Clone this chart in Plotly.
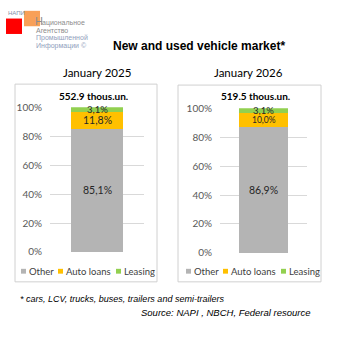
import plotly.graph_objects as go

# ---- data ----
periods = ["January 2025", "January 2026"]
totals = ["552.9 thous.un.", "519.5 thous.un."]
segments = ["Other", "Auto loans", "Leasing"]
share_other = [85.1, 86.9]
share_auto_loans = [11.8, 10.0]
share_leasing = [3.1, 3.1]
y_ticks = [0, 20, 40, 60, 80, 100]

colors = {"Other": "#B4B4B4", "Auto loans": "#FFC000", "Leasing": "#92D050"}
label_sizes = {"Other": [10.5, 10.5], "Auto loans": [10.5, 8.5], "Leasing": [9.5, 9.5]}

W = H = 338
BODY_FONT = "Lato, Calibri, Carlito, sans-serif"
ARIAL = "Liberation Sans, Arial, sans-serif"


def px(x):
    return x / W


def py(y):
    return 1 - y / H


# panel geometry (pixels from top-left)
panels = [
    dict(plot_x=(50, 144), plot_y=(105, 255), box=(15, 81, 157, 286), title_x=97, total_x=94, leg_x=21),
    dict(plot_x=(220, 307), plot_y=(106, 256), box=(178, 82, 321, 286), title_x=248, total_x=255, leg_x=186),
]

fig = go.Figure()
series = {"Other": share_other, "Auto loans": share_auto_loans, "Leasing": share_leasing}

annotations = []
shapes = []

for i, period in enumerate(periods):
    sfx = "" if i == 0 else str(i + 1)
    xa, ya = "x" + sfx, "y" + sfx
    base = 0.0
    for seg in segments:
        v = series[seg][i]
        fig.add_trace(go.Bar(
            x=[period], y=[v], name=seg, xaxis=xa, yaxis=ya,
            marker=dict(color=colors[seg], line=dict(width=0)),
            width=0.56, showlegend=False, hoverinfo="skip",
        ))
        annotations.append(dict(
            x=period, y=base + v / 2, xref=xa, yref=ya,
            text=f"{v:.1f}%".replace(".", ","), showarrow=False,
            font=dict(family=BODY_FONT, size=label_sizes[seg][i], color="#262626"),
            xanchor="center", yanchor="middle",
        ))
        base += v

    p = panels[i]
    layout_x = dict(domain=[px(p["plot_x"][0]), px(p["plot_x"][1])], showticklabels=False,
                    showgrid=False, zeroline=False, showline=False, range=[-0.5, 0.5],
                    anchor=ya, fixedrange=True)
    layout_y = dict(domain=[py(p["plot_y"][1]), py(p["plot_y"][0])], range=[0, 100.05],
                    tickvals=y_ticks, ticktext=[f"{t}%" for t in y_ticks],
                    showgrid=True, gridcolor="#D9D9D9", gridwidth=1, zeroline=False,
                    showline=False, ticks="", ticklabelstandoff=7,
                    tickfont=dict(family=BODY_FONT, size=10, color="#595959"),
                    anchor=xa, fixedrange=True)
    fig.update_layout(**{"xaxis" + sfx: layout_x, "yaxis" + sfx: layout_y})

    # panel frame
    bx0, by0, bx1, by1 = p["box"]
    shapes.append(dict(type="rect", xref="paper", yref="paper",
                       x0=px(bx0), x1=px(bx1), y0=py(by1), y1=py(by0),
                       line=dict(color="#D0D0D0", width=1), fillcolor="rgba(0,0,0,0)"))
    # panel heading and total
    annotations.append(dict(x=px(p["title_x"]), y=py(69), xref="paper", yref="paper",
                            text=period, showarrow=False, xanchor="center", yanchor="middle",
                            font=dict(family=BODY_FONT, size=11.5, color="#000000")))
    annotations.append(dict(x=px(p["total_x"]), y=py(93), xref="paper", yref="paper",
                            text=f"<b>{totals[i]}</b>", showarrow=False, xanchor="center",
                            yanchor="middle",
                            font=dict(family=BODY_FONT, size=10, color="#000000")))
    # legend row
    lx = p["leg_x"]
    offsets = [0, 37, 95]
    for seg, off in zip(segments, offsets):
        sx = lx + off
        shapes.append(dict(type="rect", xref="paper", yref="paper",
                           x0=px(sx), x1=px(sx + 5), y0=py(277.5), y1=py(272.5),
                           fillcolor=colors[seg], line=dict(width=0)))
        annotations.append(dict(x=px(sx + 6), y=py(275), xref="paper", yref="paper",
                                text=seg, showarrow=False, xanchor="left", yanchor="middle",
                                font=dict(family=BODY_FONT, size=9.5, color="#404040")))

# main heading
annotations.append(dict(x=px(199), y=py(41), xref="paper", yref="paper",
                        text="<b>New and used vehicle market*</b>", showarrow=False,
                        xanchor="center", yanchor="middle",
                        font=dict(family=ARIAL, size=12, color="#000000")))

# footnotes
annotations.append(dict(x=px(18), y=py(304), xref="paper", yref="paper",
                        text="<i>* cars, LCV, trucks, buses, trailers and semi-trailers</i>",
                        showarrow=False, xanchor="left", yanchor="middle",
                        font=dict(family=ARIAL, size=9, color="#000000")))
annotations.append(dict(x=px(312), y=py(318), xref="paper", yref="paper",
                        text="<i>Source: NAPI , NBCH, Federal resource</i>",
                        showarrow=False, xanchor="right", yanchor="middle",
                        font=dict(family=ARIAL, size=9.5, color="#000000")))

# logo
shapes.append(dict(type="rect", xref="paper", yref="paper", x0=px(6), x1=px(22),
                   y0=py(29), y1=py(13), fillcolor="#FF0000", line=dict(width=0)))
shapes.append(dict(type="rect", xref="paper", yref="paper", x0=px(24), x1=px(40),
                   y0=py(21), y1=py(5), fillcolor="rgba(247,150,70,0.9)", line=dict(width=0)))
annotations.append(dict(x=px(6), y=py(7.5), xref="paper", yref="paper", text="НАПИ",
                        showarrow=False, xanchor="left", yanchor="middle",
                        font=dict(family=ARIAL, size=6, color="#7F8FA9")))
annotations.append(dict(x=px(33), y=py(16), xref="paper", yref="paper", text="Н",
                        showarrow=False, xanchor="left", yanchor="middle",
                        font=dict(family=ARIAL, size=11, color="#8C8C8C")))
logo_lines = [("ациональное", 40, 17.5, "#8C8C8C"), ("Агентство", 34, 25.5, "#8C8C8C"),
              ("Промышленной", 34, 33.5, "#8FA0BC"), ("Информации ©", 34, 41.5, "#8FA0BC")]
for txt, x, y, c in logo_lines:
    annotations.append(dict(x=px(x), y=py(y), xref="paper", yref="paper", text=txt,
                            showarrow=False, xanchor="left", yanchor="middle",
                            font=dict(family=ARIAL, size=7, color=c)))

fig.update_layout(
    width=W, height=H, margin=dict(l=0, r=0, t=0, b=0),
    paper_bgcolor="#FFFFFF", plot_bgcolor="rgba(0,0,0,0)",
    barmode="stack", showlegend=False,
    annotations=annotations, shapes=shapes,
)

fig.write_html("out.html", config={"displayModeBar": False})
